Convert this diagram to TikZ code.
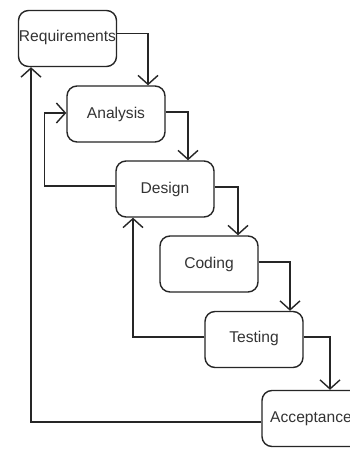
\documentclass[tikz,border=0pt]{standalone}
\usepackage{fontspec}
\setmainfont{Liberation Sans}
\usetikzlibrary{arrows.meta}
\begin{document}
\begin{tikzpicture}[x=1pt,y=-1pt,
  stage/.style={draw=black!85, line width=1.4pt, rounded corners=10pt,
    fill=white, minimum width=98pt, minimum height=56pt, inner sep=0pt,
    font=\fontsize{15.6}{18}\selectfont, text=black!80},
  flow/.style={draw=black!85, line width=1.4pt,
    -{Straight Barb[length=9pt,width=20pt,line width=1.4pt]}}]
  \useasboundingbox (0,0) rectangle (350,449);
  \clip (0,0) rectangle (350,449);
  \fill[white] (0,0) rectangle (350,449);

  % the six stages of the waterfall
  \node[stage] (req) at (67.5,38.5) {\raisebox{5pt}{Requirements}};
  \node[stage] (ana) at (116,114) {\raisebox{2pt}{Analysis}};
  \node[stage] (des) at (165,189) {\raisebox{3pt}{Design}};
  \node[stage] (cod) at (209,264) {\raisebox{3pt}{Coding}};
  \node[stage] (tst) at (254,339.5) {\raisebox{5pt}{Testing}};
  \node[stage] (acc) at (311,418.5) {\raisebox{3pt}{Acceptance}};

  % forward steps down the cascade
  \draw[flow] ([yshift=5pt]req.east) -| ([xshift=32pt]ana.north);
  \draw[flow] ([yshift=2pt]ana.east) -| ([xshift=23pt]des.north);
  \draw[flow] ([yshift=2pt]des.east) -| ([xshift=29pt]cod.north);
  \draw[flow] ([yshift=2pt]cod.east) -| ([xshift=36pt]tst.north);
  \draw[flow] ([yshift=2.5pt]tst.east) -| ([xshift=19pt]acc.north);

  % feedback loops
  \draw[flow] ([yshift=-3.5pt]acc.west) -| ([xshift=-36.5pt]req.south);
  \draw[flow] ([yshift=2.5pt]tst.west) -| ([xshift=-32pt]des.south);
  \draw[flow] ([yshift=3pt]des.west) -| ([xshift=-22pt,yshift=1pt]ana.west)
    -- ([yshift=1pt]ana.west);
\end{tikzpicture}
\end{document}
